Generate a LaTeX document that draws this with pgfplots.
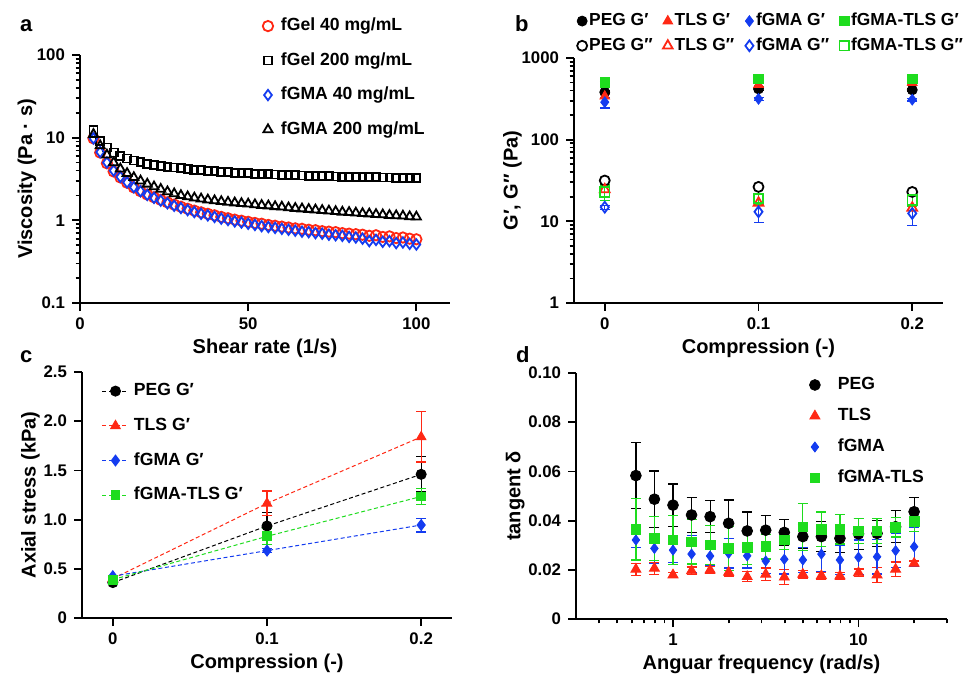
\documentclass[border=0pt]{standalone}
\usepackage{fontspec}
\setmainfont{Liberation Sans}
\usepackage{pgfplots}
\usepackage{pgfplotstable}
\pgfplotsset{compat=1.18}

\definecolor{gpred}{RGB}{255,40,20}
\definecolor{gpblue}{RGB}{20,60,240}
\definecolor{gpgreen}{RGB}{30,220,30}

\pgfplotsset{
  gp/.style={
    scale only axis, anchor=south west,
    axis lines=left,
    axis line style={-, line width=1pt},
    tick align=outside,
    major tick length=4pt, minor tick length=2.2pt,
    tick style={black, line width=0.9pt},
    tick label style={font=\bfseries\fontsize{8.4}{10}\selectfont},
    label style={font=\bfseries\fontsize{10}{12}\selectfont},
    xlabel style={yshift=2.5pt},
    legend cell align=left,
    legend style={draw=none, fill=none, inner sep=0pt, outer sep=0pt,
      font=\bfseries\fontsize{8.8}{10}\selectfont,
      nodes={inner sep=1pt, text height=6.5pt, text depth=2pt}},
    clip=false,
  },
  markleg/.style 2 args={legend image code/.code={
      \path[draw=none, fill=none] (0pt,0pt) -- (#2,0pt);
      \draw plot coordinates {(#1,0pt)};}},
  errs/.style={error bars/.cd, y dir=both, y explicit,
    error bar style={solid, line width=0.6pt},
    error mark options={rotate=90, mark size=2.5pt, line width=0.6pt, solid}},
}

% shear sweep (panel a)
\pgfplotstableread{
x gel40 gel200 gma40 gma200
4 9.8 12.5 9.8 11
6 6.6 9.2 6.7 8.0
8 4.9 7.6 5.0 6.2
10 3.9 6.6 4.0 5.0
12 3.3 6.0 3.35 4.2
14 2.85 5.6 2.88 3.7
16 2.5 5.3 2.52 3.3
18 2.25 5.05 2.25 3.0
20 2.05 4.85 2.03 2.75
22 1.9 4.7 1.87 2.55
24 1.77 4.55 1.73 2.38
26 1.65 4.45 1.61 2.22
28 1.55 4.35 1.5 2.1
30 1.46 4.25 1.41 2.0
32 1.38 4.17 1.33 1.93
34 1.31 4.1 1.26 1.87
36 1.25 4.03 1.2 1.82
38 1.2 3.97 1.15 1.77
40 1.15 3.92 1.1 1.73
42 1.1 3.87 1.05 1.69
44 1.06 3.82 1.01 1.66
46 1.02 3.78 0.97 1.63
48 0.99 3.74 0.94 1.6
50 0.96 3.7 0.91 1.58
52 0.93 3.67 0.88 1.55
54 0.91 3.64 0.85 1.52
56 0.88 3.61 0.83 1.5
58 0.86 3.58 0.81 1.47
60 0.84 3.56 0.79 1.45
62 0.82 3.53 0.77 1.42
64 0.8 3.51 0.75 1.4
66 0.79 3.49 0.73 1.38
68 0.77 3.47 0.72 1.36
70 0.76 3.45 0.7 1.34
72 0.74 3.43 0.69 1.32
74 0.73 3.41 0.67 1.3
76 0.72 3.4 0.66 1.28
78 0.7 3.38 0.65 1.26
80 0.69 3.37 0.63 1.25
82 0.68 3.35 0.62 1.23
84 0.67 3.34 0.6 1.21
86 0.65 3.33 0.56 1.2
88 0.66 3.31 0.58 1.18
90 0.63 3.3 0.55 1.17
92 0.64 3.29 0.56 1.15
94 0.61 3.28 0.53 1.14
96 0.62 3.27 0.54 1.13
98 0.6 3.26 0.52 1.11
100 0.59 3.25 0.51 1.1
}\shear

% frequency sweep (panel d)
\pgfplotstableread{
w peg pege tls tlse gma gmae gt gte
0.631 0.0583 0.0135 0.0202 0.0025 0.0321 0.003 0.0365 0.0125
0.794 0.0487 0.0115 0.0206 0.0025 0.0287 0.006 0.0328 0.009
1 0.0463 0.0086 0.0179 0.001 0.028 0.005 0.0321 0.01
1.259 0.0423 0.0072 0.0196 0.0015 0.0264 0.0075 0.0314 0.009
1.585 0.0416 0.0065 0.0199 0.0015 0.0256 0.004 0.0301 0.008
1.995 0.0389 0.0095 0.019 0.0015 0.0267 0.006 0.0287 0.009
2.512 0.0358 0.0077 0.0172 0.002 0.0257 0.005 0.0291 0.007
3.162 0.0361 0.0059 0.0182 0.0025 0.0236 0.005 0.0294 0.005
3.981 0.0352 0.0053 0.017 0.003 0.0243 0.006 0.0321 0.004
5.012 0.0335 0.005 0.0182 0.0015 0.024 0.005 0.0375 0.0095
6.31 0.0335 0.0061 0.0176 0.0015 0.0264 0.007 0.0365 0.007
7.943 0.0328 0.0057 0.0175 0.0015 0.024 0.006 0.0365 0.006
10 0.0346 0.0063 0.0188 0.0015 0.0251 0.007 0.0358 0.005
12.59 0.0348 0.0054 0.0179 0.003 0.0253 0.007 0.0358 0.005
15.85 0.0375 0.0065 0.0202 0.003 0.0278 0.007 0.0373 0.004
19.95 0.0436 0.0059 0.0226 0.001 0.0294 0.008 0.0396 0.004
}\tand

\begin{document}
\begin{tikzpicture}
\useasboundingbox (0,0) rectangle (486.5pt,337.5pt);

% ---- a: viscosity
\begin{axis}[gp, at={(40pt,186pt)}, width=185pt, height=124pt,
  xmin=0, xmax=110, ymode=log, ymin=0.1, ymax=100,
  xtick={0,50,100}, xticklabels={0,50,100},
  ytick={0.1,1,10,100}, yticklabels={0.1,1,10,100},
  minor ytick={0.2,0.3,0.4,0.5,0.6,0.7,0.8,0.9,2,3,4,5,6,7,8,9,20,30,40,50,60,70,80,90},
  xlabel={Shear rate (1/s)}, ylabel={Viscosity (Pa · s)},
  ylabel style={yshift=-6.5pt},
  every axis plot/.append style={only marks, markleg={5pt}{10.5pt}},
  legend style={at={(0.481,1.159)}, anchor=north west, row sep=6.75pt}]
\addplot[gpred, mark=o, mark size=2.6pt, mark options={line width=0.9pt}] table[x=x, y=gel40] {\shear};
\addlegendentry{fGel 40 mg/mL}
\addplot[black, mark=square, mark size=2pt, mark options={line width=0.9pt}] table[x=x, y=gel200] {\shear};
\addlegendentry{fGel 200 mg/mL}
\addplot[gpblue, mark=diamond, mark size=2.6pt, mark options={line width=0.9pt}] table[x=x, y=gma40] {\shear};
\addlegendentry{fGMA 40 mg/mL}
\addplot[black, mark=triangle, mark size=2.6pt, mark options={line width=0.9pt}] table[x=x, y=gma200] {\shear};
\addlegendentry{fGMA 200 mg/mL}
\end{axis}

% ---- b: moduli vs compression
\begin{axis}[gp, at={(287pt,186pt)}, width=184.5pt, height=122.5pt,
  xmin=-0.02, xmax=0.22, ymode=log, ymin=1, ymax=1000,
  xtick={0,0.1,0.2}, xticklabels={0,0.1,0.2},
  ytick={1,10,100,1000}, yticklabels={1,10,100,1000},
  minor ytick={2,3,4,5,6,7,8,9,20,30,40,50,60,70,80,90,200,300,400,500,600,700,800,900},
  xlabel={Compression (-)}, ylabel={G′, G″ (Pa)},
  ylabel style={yshift=-7pt},
  every axis plot/.append style={only marks, markleg={5pt}{7.3pt}},
  legend columns=4,
  legend style={at={(-0.005,1.007)}, anchor=south west, row sep=1.85pt,
    font=\bfseries\fontsize{8.7}{10}\selectfont,
    /tikz/every even column/.append style={column sep=1.6pt}}]
\addplot[black, mark=*, mark size=2.5pt, errs] coordinates {(0,381)+-(0,15) (0.1,418)+-(0,15) (0.2,407)+-(0,15)};
\addlegendentry{PEG G′}
\addplot[gpred, mark=triangle*, mark size=2.8pt, errs] coordinates {(0,340)+-(0,15) (0.1,470)+-(0,20) (0.2,500)+-(0,20)};
\addlegendentry{TLS G′}
\addplot[gpblue, mark=diamond*, mark size=2.7pt, errs] coordinates {(0,288)+-(0,44) (0.1,316)+-(0,12) (0.2,309)+-(0,12)};
\addlegendentry{fGMA G′}
\addplot[gpgreen, mark=square*, mark size=2.4pt, errs] coordinates {(0,500)+-(0,20) (0.1,555)+-(0,20) (0.2,555)+-(0,20)};
\addlegendentry{fGMA-TLS G′}
\addplot[black, mark=o, mark size=2.5pt, mark options={line width=0.9pt}] coordinates {(0,31.6) (0.1,26.4) (0.2,22.9)};
\addlegendentry{PEG G″}
\addplot[gpred, mark=triangle, mark size=2.8pt, mark options={line width=0.9pt}] coordinates {(0,24.5) (0.1,16.8) (0.2,14.6)};
\addlegendentry{TLS G″}
\addplot[gpblue, mark=diamond, mark size=2.7pt, mark options={line width=0.9pt}, errs] coordinates {(0,14.9)+-(0,0.8) (0.1,13.1)+-(0,3.4) (0.2,12.5)+-(0,3.6)};
\addlegendentry{fGMA G″}
\addplot[gpgreen, mark=square, mark size=2.4pt, mark options={line width=0.9pt}, errs] coordinates {(0,22.9)+-(0,5) (0.1,19)+-(0,3) (0.2,18.3)+-(0,3)};
\addlegendentry{fGMA-TLS G″}
\end{axis}

% ---- c: axial stress
\begin{axis}[gp, at={(41pt,28.5pt)}, width=185pt, height=123pt,
  xmin=-0.02, xmax=0.22, ymin=0, ymax=2.5,
  xtick={0,0.1,0.2}, xticklabels={0,0.1,0.2},
  ytick={0,0.5,1,1.5,2,2.5}, yticklabels={0,0.5,1.0,1.5,2.0,2.5},
  xlabel={Compression (-)}, ylabel={Axial stress (kPa)},
  ylabel style={yshift=-5pt},
  every axis plot/.append style={dash pattern=on 2pt off 1.3pt, line width=0.5pt,
    mark options={solid},
    legend image code/.code={\draw[mark repeat=2,mark phase=2] plot coordinates {(0pt,0pt)(6.5pt,0pt)(13pt,0pt)};}},
  legend style={at={(0.054,0.965)}, anchor=north west, row sep=6.85pt,
    /tikz/every odd column/.append style={column sep=1.5pt}}]
\addplot[black, mark=*, mark size=2.5pt, errs] coordinates {(0,0.36)+-(0,0.02) (0.1,0.935)+-(0,0.135) (0.2,1.46)+-(0,0.18)};
\addlegendentry{PEG G′}
\addplot[gpred, mark=triangle*, mark size=2.7pt, errs] coordinates {(0,0.40)+-(0,0.02) (0.1,1.165)+-(0,0.125) (0.2,1.84)+-(0,0.255)};
\addlegendentry{TLS G′}
\addplot[gpblue, mark=diamond*, mark size=2.7pt, errs] coordinates {(0,0.425)+-(0,0.01) (0.1,0.685)+-(0,0.02) (0.2,0.945)+-(0,0.07)};
\addlegendentry{fGMA G′}
\addplot[gpgreen, mark=square*, mark size=2.2pt, errs] coordinates {(0,0.39)+-(0,0.02) (0.1,0.83)+-(0,0.08) (0.2,1.235)+-(0,0.085)};
\addlegendentry{fGMA-TLS G′}
\end{axis}

% ---- d: loss tangent
\begin{axis}[gp, at={(288pt,28pt)}, width=185.5pt, height=123pt,
  xmode=log, xmin=0.3, xmax=30, ymin=0, ymax=0.1,
  xtick={1,10}, xticklabels={1,10},
  minor xtick={0.4,0.5,0.6,0.7,0.8,0.9,2,3,4,5,6,7,8,9,20,30},
  ytick={0,0.02,0.04,0.06,0.08,0.1}, yticklabels={0,0.02,0.04,0.06,0.08,0.10},
  xlabel={Anguar frequency (rad/s)}, ylabel={tangent δ},
  ylabel style={yshift=-5pt},
  every axis plot/.append style={only marks, markleg={5pt}{15.5pt}},
  legend style={at={(0.617,0.994)}, anchor=north west, row sep=5pt}]
\addplot[black, mark=*, mark size=2.7pt, errs] table[x=w, y=peg, y error=pege] {\tand};
\addlegendentry{PEG}
\addplot[gpred, mark=triangle*, mark size=2.9pt, errs] table[x=w, y=tls, y error=tlse] {\tand};
\addlegendentry{TLS}
\addplot[gpblue, mark=diamond*, mark size=2.5pt, errs] table[x=w, y=gma, y error=gmae] {\tand};
\addlegendentry{fGMA}
\addplot[gpgreen, mark=square*, mark size=2.4pt, errs] table[x=w, y=gt, y error=gte] {\tand};
\addlegendentry{fGMA-TLS}
\end{axis}

% panel letters
\node[anchor=base west, font=\bfseries\fontsize{11}{13}\selectfont] at (6.5pt,321.5pt) {a};
\node[anchor=base west, font=\bfseries\fontsize{11}{13}\selectfont] at (254pt,321.5pt) {b};
\node[anchor=base west, font=\bfseries\fontsize{11}{13}\selectfont] at (6.5pt,156.5pt) {c};
\node[anchor=base west, font=\bfseries\fontsize{11}{13}\selectfont] at (254.5pt,156pt) {d};
\end{tikzpicture}
\end{document}
